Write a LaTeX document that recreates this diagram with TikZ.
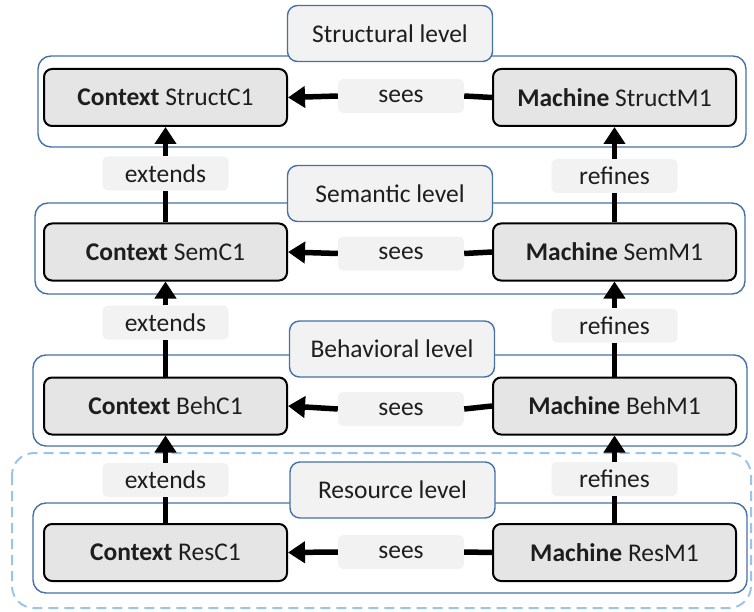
\documentclass[tikz,border=0pt]{standalone}
\usepackage{fontspec}
\setmainfont{Carlito}
\usetikzlibrary{arrows.meta}
\definecolor{boxfill}{RGB}{229,229,229}
\definecolor{lblfill}{RGB}{242,242,242}
\definecolor{lvlblue}{RGB}{68,114,168}
\definecolor{dashblue}{RGB}{157,195,230}
\definecolor{txt}{RGB}{30,30,30}
\begin{document}
\begin{tikzpicture}[x=1pt,y=-1pt,
  every node/.style={text=txt, font=\fontsize{25.5}{29}\selectfont},
  comp/.style={draw=black, line width=2pt, fill=boxfill, rounded corners=8pt,
    minimum width=243pt, minimum height=57pt, inner sep=0pt},
  rel/.style={fill=lblfill, rounded corners=5pt, minimum width=126pt,
    minimum height=34pt, inner sep=0pt},
  lvl/.style={draw=lvlblue, line width=1.4pt, fill=lblfill, rounded corners=10pt,
    minimum width=205pt, minimum height=56pt, inner sep=0pt},
  container/.style={draw=lvlblue, line width=1.4pt, rounded corners=13pt},
  outerbox/.style={draw=dashblue, line width=2pt, dash pattern=on 10pt off 6pt, rounded corners=22pt},
  conn/.style={line width=5.5pt},
  arr/.style={conn, -{Triangle[width=21pt,length=17pt]}},
]
\useasboundingbox (0,0) rectangle (754,612);

% outer dashed frame (resource level group)
\draw[outerbox] (12,453) rectangle (751,608);

% level containers
\draw[container] (38,56) rectangle (746,147);
\draw[container] (35,203) rectangle (745,294);
\draw[container] (33,355) rectangle (747,446);
\draw[container] (33,503) rectangle (747,593);

% level labels
\node[lvl] (Lstruct) at (390,33.5) {Structural level};
\node[lvl] (Lsem) at (390,193.5) {Semantic level};
\node[lvl] (Lbeh) at (392,349) {Behavioral level};
\node[lvl] (Lres) at (392.5,490) {Resource level};

% components
\node[comp] (cS) at (165.5,97.5) {\textbf{Context} StructC1};
\node[comp] (mS) at (614.5,97.5) {\textbf{Machine} StructM1};
\node[comp] (cM) at (165.5,252) {\textbf{Context} SemC1};
\node[comp] (mM) at (614.5,252) {\textbf{Machine} SemM1};
\node[comp] (cB) at (165.5,406) {\textbf{Context} BehC1};
\node[comp] (mB) at (614.5,406) {\textbf{Machine} BehM1};
\node[comp] (cR) at (165.5,552.5) {\textbf{Context} ResC1};
\node[comp] (mR) at (614.5,552.5) {\textbf{Machine} ResM1};

% relation labels
\node[rel] (sS) at (401,96) {sees};
\node[rel] (sM) at (401,253.5) {sees};
\node[rel] (sB) at (401,409) {sees};
\node[rel] (sR) at (401,552) {sees};
\node[rel] (eS) at (165.5,173.5) {extends};
\node[rel] (eM) at (165.5,322.5) {extends};
\node[rel] (eB) at (165.5,480) {extends};
\node[rel] (rS) at (614.5,176) {refines};
\node[rel] (rM) at (614.5,325.5) {refines};
\node[rel] (rB) at (614.5,479) {refines};

% sees connectors
\foreach \s/\c/\m in {sS/cS/mS, sM/cM/mM, sB/cB/mB, sR/cR/mR}{
  \draw[conn] (\m.west) -- (\s.east);
  \draw[arr] (\s.west) -- (\c.east);
}
% extends / refines connectors
\foreach \l/\lo/\hi in {eS/cM/cS, eM/cB/cM, eB/cR/cB, rS/mM/mS, rM/mB/mM, rB/mR/mB}{
  \draw[conn] (\lo.north) -- (\l.south);
  \draw[arr] (\l.north) -- (\hi.south);
}
\end{tikzpicture}
\end{document}
